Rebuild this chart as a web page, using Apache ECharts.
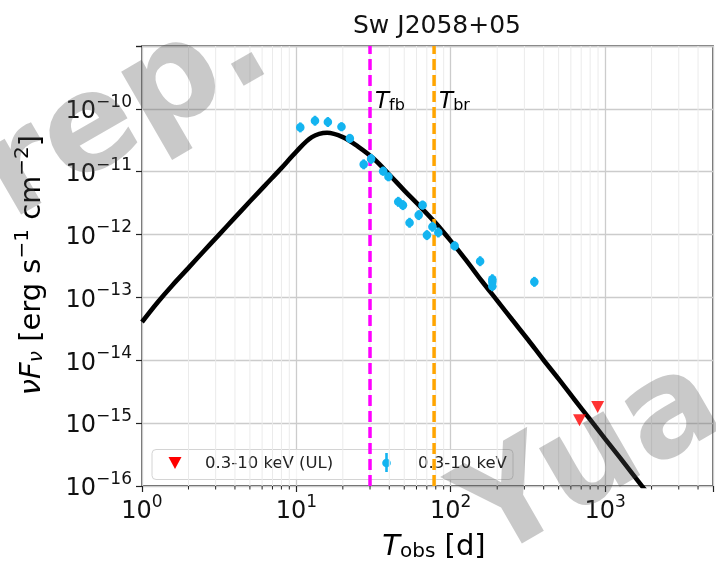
<!DOCTYPE html>
<html>
<head>
<meta charset="utf-8">
<script src="https://cdn.jsdelivr.net/npm/echarts@6/dist/echarts.min.js"></script>
<style>
  html, body { margin: 0; padding: 0; background: #fff; }
  #chart { width: 716px; height: 563px; }
</style>
</head>
<body>
<div id="chart"></div>
<script>
const FONT = 'DejaVu Sans';

// Model light curve (black line), sampled every 0.1 dex in time
const curveT = [1, 1.26, 1.58, 2.0, 2.51, 3.16, 3.98, 5.01, 6.31, 7.94, 10, 12.6, 15.8, 20.0, 25.1, 31.6, 39.8, 50.1, 63.1, 79.4, 100, 126, 158, 200, 251, 316, 398, 501, 631, 794, 1000, 1259, 1585, 1995];
const curveF = [4.07e-14, 8.32e-14, 1.58e-13, 2.95e-13, 5.43e-13, 1.0e-12, 1.84e-12, 3.39e-12, 6.17e-12, 1.12e-11, 2.09e-11, 3.55e-11, 4.17e-11, 3.55e-11, 2.51e-11, 1.62e-11, 9.12e-12, 5.01e-12, 2.82e-12, 1.55e-12, 7.94e-13, 3.89e-13, 1.86e-13, 8.91e-14, 4.37e-14, 2.14e-14, 1.02e-14, 5.01e-15, 2.40e-15, 1.17e-15, 5.62e-16, 2.75e-16, 1.32e-16, 6.46e-17];

// 0.3-10 keV detections with relative error half-widths
const detT = [10.6, 13.2, 16.0, 19.6, 22.2, 27.3, 30.5, 36.5, 39.5, 45.7, 49.0, 54.1, 62.0, 65.7, 70.1, 76.1, 83.1, 106, 155, 186, 186, 186, 348];
const detF = [5.07e-11, 6.47e-11, 6.17e-11, 5.19e-11, 3.39e-11, 1.31e-11, 1.60e-11, 1.02e-11, 8.3e-12, 3.32e-12, 2.94e-12, 1.54e-12, 2.04e-12, 2.94e-12, 9.8e-13, 1.33e-12, 1.08e-12, 6.6e-13, 3.77e-13, 1.95e-13, 1.77e-13, 1.51e-13, 1.77e-13];
const detErr = [0.2, 0.2, 0.2, 0.18, 0.18, 0.2, 0.2, 0.18, 0.18, 0.2, 0.2, 0.2, 0.2, 0.18, 0.2, 0.2, 0.2, 0.18, 0.2, 0.2, 0.2, 0.2, 0.2];

// 0.3-10 keV upper limits
const ulT = [683, 895];
const ulF = [1.11e-15, 1.81e-15];

// characteristic times
const tFb = 30;
const tBr = 78;

// axis ranges
const X_MIN = 1, X_MAX = 5000;
const Y_MIN = 1e-16, Y_MAX = 1e-9;

const minorX = [];
for (let d = 1; d <= 1000; d *= 10) {
  for (let k = 2; k <= 9; k++) {
    if (k * d < X_MAX) minorX.push(k * d);
  }
}

const BLUE = '#14b4f0';
const RED = '#ff0000';
const MAGENTA = '#ff00ff';
const ORANGE = '#ffa500';

// tick labels as 10^n with a raised exponent
function powLabel(v, upper) {
  if (v >= upper * 0.999) return '';
  const lg = Math.log10(v);
  const e = Math.round(lg);
  if (Math.abs(lg - e) > 1e-6) return '';
  return '{b|10}{s|' + (e < 0 ? '\u2212' : '') + Math.abs(e) + '}';
}

const tickRich = {
  b: { fontFamily: FONT, fontSize: 24, color: '#111', lineHeight: 30, verticalAlign: 'bottom' },
  s: { fontFamily: FONT, fontSize: 17, color: '#111', lineHeight: 17, verticalAlign: 'top' }
};

const chart = echarts.init(document.getElementById('chart'), null, { renderer: 'canvas' });

const gridLeft = 142, gridTop = 46;
const gridW = 580, gridH = 440;

const option = {
  animation: false,
  backgroundColor: '#fff',
  title: {
    text: 'Sw J2058+05',
    left: gridLeft + gridW / 2,
    top: 9,
    textAlign: 'center',
    textStyle: { fontFamily: FONT, fontSize: 25, fontWeight: 'normal', color: '#111' }
  },
  grid: {
    left: gridLeft, top: gridTop, width: gridW, height: gridH,
    show: true, borderColor: '#222', borderWidth: 1.3, backgroundColor: 'transparent'
  },
  xAxis: {
    type: 'log', logBase: 10, min: X_MIN, max: X_MAX,
    axisLine: { show: false },
    axisTick: { show: true, length: 6, inside: false, lineStyle: { color: '#222', width: 1.2 } },
    splitLine: { show: true, lineStyle: { color: '#cccccc', width: 1.3 } },
    axisLabel: { margin: 8, formatter: v => powLabel(v, X_MAX), rich: tickRich }
  },
  yAxis: {
    type: 'log', logBase: 10, min: Y_MIN, max: Y_MAX, splitNumber: 7,
    axisLine: { show: false },
    axisTick: { show: true, length: 6, inside: false, lineStyle: { color: '#222', width: 1.2 } },
    splitLine: { show: true, lineStyle: { color: '#cccccc', width: 1.3 } },
    axisLabel: { margin: 10, formatter: v => powLabel(v, Y_MAX), rich: tickRich }
  },
  series: [
    {
      // minor x grid lines and minor ticks
      type: 'custom',
      z: 1,
      silent: true,
      clip: false,
      data: minorX.map(v => [v, Y_MIN]),
      encode: { x: 0, y: 1 },
      renderItem: function (params, api) {
        const v = api.value(0);
        const top = api.coord([v, Y_MAX]);
        const bot = api.coord([v, Y_MIN]);
        return {
          type: 'group',
          children: [
            { type: 'line', shape: { x1: top[0], y1: top[1], x2: bot[0], y2: bot[1] },
              style: { stroke: '#ebebeb', lineWidth: 1 } },
            { type: 'line', shape: { x1: bot[0], y1: bot[1], x2: bot[0], y2: bot[1] + 3.5 },
              style: { stroke: '#222', lineWidth: 1 } }
          ]
        };
      }
    },
    {
      name: 'model',
      type: 'line',
      z: 3,
      silent: true,
      showSymbol: false,
      smooth: 0.35,
      data: curveT.map((t, i) => [t, curveF[i]]),
      lineStyle: { color: '#000', width: 4.6 }
    },
    {
      name: 'T_fb',
      type: 'line',
      z: 4,
      silent: true,
      showSymbol: false,
      data: [[tFb, Y_MIN], [tFb, Y_MAX]],
      lineStyle: { color: MAGENTA, width: 3.5, type: [11, 5] }
    },
    {
      name: 'T_br',
      type: 'line',
      z: 4,
      silent: true,
      showSymbol: false,
      data: [[tBr, Y_MIN], [tBr, Y_MAX]],
      lineStyle: { color: ORANGE, width: 3.5, type: [11, 5] }
    },
    {
      name: '0.3-10 keV',
      type: 'custom',
      z: 5,
      silent: true,
      data: detT.map((t, i) => [t, detF[i], detErr[i]]),
      encode: { x: 0, y: 1 },
      renderItem: function (params, api) {
        const t = api.value(0), f = api.value(1), e = api.value(2);
        const c = api.coord([t, f]);
        const lo = api.coord([t, f / (1 + e)]);
        const hi = api.coord([t, f * (1 + e)]);
        return {
          type: 'group',
          children: [
            { type: 'line', shape: { x1: c[0], y1: lo[1], x2: c[0], y2: hi[1] },
              style: { stroke: BLUE, lineWidth: 2.6 } },
            { type: 'circle', shape: { cx: c[0], cy: c[1], r: 4.3 }, style: { fill: BLUE } }
          ]
        };
      }
    },
    {
      name: '0.3-10 keV (UL)',
      type: 'scatter',
      z: 5,
      silent: true,
      symbol: 'triangle',
      symbolRotate: 180,
      symbolSize: [13, 12],
      data: ulT.map((t, i) => [t, ulF[i]]),
      itemStyle: { color: RED }
    }
  ]
};

chart.setOption(option);

// annotations placed through the axis scale
const xFb = chart.convertToPixel({ xAxisIndex: 0 }, tFb);
const xBr = chart.convertToPixel({ xAxisIndex: 0 }, tBr);

const labRich = (col) => ({
  i: { fontFamily: FONT, fontStyle: 'italic', fontSize: 23, color: col, lineHeight: 26, verticalAlign: 'bottom' },
  sub: { fontFamily: FONT, fontSize: 16, color: col, lineHeight: 16, verticalAlign: 'bottom' }
});

const axisNameRich = {
  i: { fontFamily: FONT, fontStyle: 'italic', fontSize: 29, color: '#111', lineHeight: 34, verticalAlign: 'bottom' },
  n: { fontFamily: FONT, fontSize: 29, color: '#111', lineHeight: 34, verticalAlign: 'bottom' },
  sub: { fontFamily: FONT, fontSize: 20, color: '#111', lineHeight: 20, verticalAlign: 'bottom' },
  subi: { fontFamily: FONT, fontStyle: 'italic', fontSize: 20, color: '#111', lineHeight: 20, verticalAlign: 'bottom' },
  sup: { fontFamily: FONT, fontSize: 20, color: '#111', lineHeight: 20, verticalAlign: 'top' }
};

const WM = 'rgba(80,80,80,0.31)';

chart.setOption({
  graphic: [
    {
      type: 'text', x: xFb + 5, y: 101, z: 20, silent: true,
      style: { text: '{i|T}{sub|fb}', rich: labRich(MAGENTA), align: 'left', verticalAlign: 'middle' }
    },
    {
      type: 'text', x: xBr + 5, y: 101, z: 20, silent: true,
      style: { text: '{i|T}{sub|br}', rich: labRich(ORANGE), align: 'left', verticalAlign: 'middle' }
    },
    {
      type: 'text', x: 434, y: 545, z: 20, silent: true,
      style: { text: '{i|T}{sub|obs}{n| [d]}', rich: axisNameRich, align: 'center', verticalAlign: 'middle' }
    },
    {
      type: 'text', x: 30, y: 265, z: 20, silent: true, rotation: Math.PI / 2,
      style: { text: '{i|\u03bdF}{subi|\u03bd}{n| [erg s}{sup|\u22121}{n| cm}{sup|\u22122}{n|]}', rich: axisNameRich, align: 'center', verticalAlign: 'middle' }
    },
    // legend
    {
      type: 'group', z: 30, silent: true,
      children: [
        { type: 'rect', shape: { x: 152, y: 449.5, width: 361, height: 30, r: 4 },
          style: { fill: 'rgba(255,255,255,0.8)', stroke: '#d4d4d4', lineWidth: 1 } },
        { type: 'polygon', shape: { points: [[168.5, 457], [181.5, 457], [175, 469]] }, style: { fill: RED } },
        { type: 'text', x: 205, y: 464, style: { text: '0.3-10 keV (UL)', fontFamily: FONT, fontSize: 16.5, fill: '#222', align: 'left', verticalAlign: 'middle' } },
        { type: 'line', shape: { x1: 386.5, y1: 453, x2: 386.5, y2: 472 }, style: { stroke: BLUE, lineWidth: 2.6 } },
        { type: 'circle', shape: { cx: 386.5, cy: 463, r: 4.3 }, style: { fill: BLUE } },
        { type: 'text', x: 418, y: 464, style: { text: '0.3-10 keV', fontFamily: FONT, fontSize: 16.5, fill: '#222', align: 'left', verticalAlign: 'middle' } }
      ]
    },
    // watermark
    {
      type: 'text', x: -67, y: 278, rotation: Math.PI / 6, z: 100, silent: true,
      style: { text: 'prep.', x: 0, y: -46, fontFamily: FONT, fontWeight: 'bold', fontSize: 135, fill: WM, align: 'left', verticalAlign: 'middle' }
    },
    {
      type: 'text', x: 496, y: 571, rotation: Math.PI / 6, z: 100, silent: true,
      style: { text: 'Yua', x: 0, y: -46, fontFamily: FONT, fontWeight: 'bold', fontSize: 135, fill: WM, align: 'left', verticalAlign: 'middle' }
    }
  ]
});
</script>
</body>
</html>
